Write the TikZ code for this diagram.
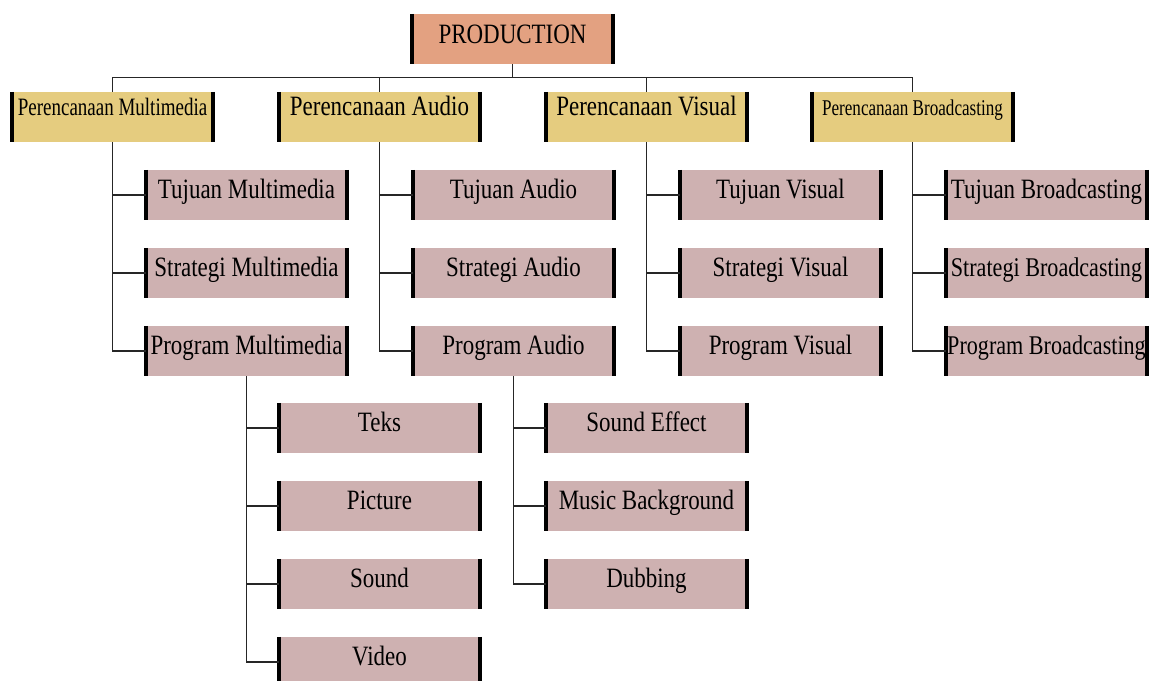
\documentclass[tikz,border=0pt]{standalone}
\usepackage{fontspec}
\setmainfont{Liberation Serif}[FakeStretch=0.82]
\newfontfamily\narrowfont{Liberation Serif}[FakeStretch=0.76]
\usetikzlibrary{positioning}
\definecolor{prodfill}{RGB}{227,161,129}
\definecolor{planfill}{RGB}{229,204,127}
\definecolor{itemfill}{RGB}{206,177,177}
\tikzset{
bar/.style = {line width=4pt},
box/.style = {minimum width=201pt, minimum height=50pt, inner sep=0pt,
  text height=20pt, text depth=13pt,
  font=\fontsize{28}{30}\selectfont,
  append after command={(\tikzlastnode.north west) edge[bar] (\tikzlastnode.south west)
                        (\tikzlastnode.north east) edge[bar] (\tikzlastnode.south east)}},
top/.style = {box, fill=prodfill, text height=20pt, text depth=12pt},
plan/.style = {box, fill=planfill, text height=16pt, text depth=20pt},
item/.style = {box, fill=itemfill},
link/.style = {line width=1.3pt, black!85}
}

\begin{document}
\begin{tikzpicture}[x=1pt,y=-1pt]
\clip (0,0) rectangle (1150,680);

\node[top] (prod) at (512.5,39) {PRODUCTION};

% perencanaan
\node[plan, font=\narrowfont\fontsize{25}{27}\selectfont] (pmm) at (112.5,117) {Perencanaan Multimedia};
\node[plan] (pau) at (379.5,117) {Perencanaan Audio};
\node[plan] (pvi) at (646.5,117) {Perencanaan Visual};
\node[plan, font=\narrowfont\fontsize{22.5}{24}\selectfont] (pbc) at (912.5,117) {Perencanaan Broadcasting};

\foreach \p in {pmm,pau,pvi,pbc}
  \draw[link] (prod.south) -- ++(0,13) -| (\p.north);

% multimedia
\node[item] (tmm) at (246.5,195) {Tujuan Multimedia};
\node[item] (smm) at (246.5,273) {Strategi Multimedia};
\node[item] (gmm) at (246.5,351) {Program Multimedia};

% audio
\node[item] (tau) at (513.5,195) {Tujuan Audio};
\node[item] (sau) at (513.5,273) {Strategi Audio};
\node[item] (gau) at (513.5,351) {Program Audio};

% visual
\node[item] (tvi) at (780.5,195) {Tujuan Visual};
\node[item] (svi) at (780.5,273) {Strategi Visual};
\node[item] (gvi) at (780.5,351) {Program Visual};

% broadcasting
\node[item] (tbc) at (1046.5,195) {Tujuan Broadcasting};
\node[item, font=\fontsize{27}{29}\selectfont] (sbc) at (1046.5,273) {Strategi Broadcasting};
\node[item, font=\fontsize{27}{29}\selectfont] (gbc) at (1046.5,351) {Program Broadcasting};

\foreach \p/\c in {pmm/tmm,pmm/smm,pmm/gmm,pau/tau,pau/sau,pau/gau,
                   pvi/tvi,pvi/svi,pvi/gvi,pbc/tbc,pbc/sbc,pbc/gbc}
  \draw[link] (\p.south) |- (\c.west);

% program multimedia
\node[item] (teks) at (379.5,428) {Teks};
\node[item] (pict) at (379.5,506) {Picture};
\node[item] (snd) at (379.5,584) {Sound};
\node[item] (vid) at (379.5,662) {Video};

% program audio
\node[item] (sfx) at (646.5,428) {Sound Effect};
\node[item] (mbg) at (646.5,506) {Music Background};
\node[item] (dub) at (646.5,584) {Dubbing};

\foreach \c in {teks,pict,snd,vid}
  \draw[link] (gmm.south) |- (\c.west);
\foreach \c in {sfx,mbg,dub}
  \draw[link] (gau.south) |- (\c.west);
\end{tikzpicture}
\end{document}
